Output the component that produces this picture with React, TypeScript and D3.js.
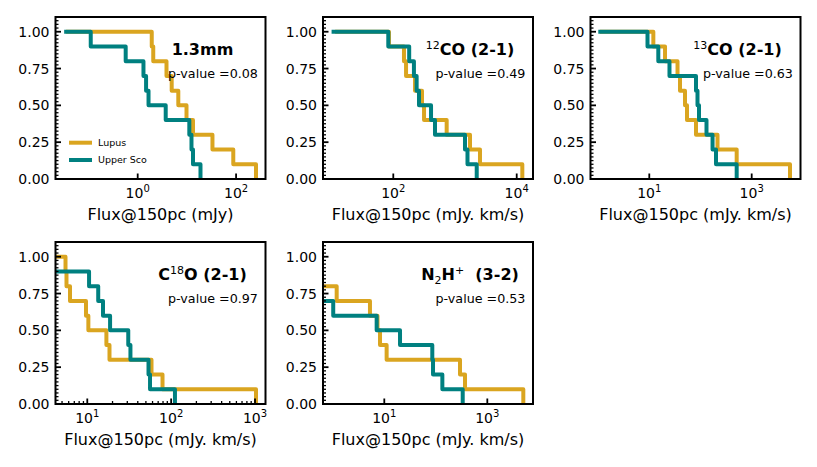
import React from 'react';
import * as d3 from 'd3';

const W = 817;
const H = 467;
const GOLD = '#daa520';
const TEAL = '#008080';
const FONT = 'DejaVu Sans, sans-serif';

// survival fractions: each level holds from its flux to the next one (step after)
const levelsFull = [1.0, 0.9, 0.8, 0.7, 0.6, 0.5, 0.4, 0.3, 0.2, 0.1, 0.0];
const levelsFrom09 = [0.9, 0.8, 0.7, 0.6, 0.5, 0.4, 0.3, 0.2, 0.1, 0.0];
const levelsFrom08 = [0.8, 0.7, 0.6, 0.5, 0.4, 0.3, 0.2, 0.1, 0.0];
const levelsFrom07 = [0.7, 0.6, 0.5, 0.4, 0.3, 0.2, 0.1, 0.0];

// fluxes @150pc
const mmLupus = [0.035, 1.93, 2.07, 3.85, 4.91, 6.69, 9.82, 13.3, 33.1, 87.7, 254];
const mmUsco = [0.032, 0.111, 0.57, 1.31, 1.48, 1.66, 3.71, 11.2, 12.4, 13.3, 18.9];

const co12Lupus = [11.4, 85.1, 149, 161, 225, 292, 315, 733, 1750, 2540, 12330];
const co12Usco = [10.0, 83.0, 181, 216, 239, 261, 409, 474, 1452, 1594, 2249];

const co13Lupus = [1.09, 12.0, 20.3, 35.6, 39.8, 49.8, 54.5, 81.7, 215, 509, 5598];
const co13Usco = [1.01, 9.23, 15.0, 24.8, 81.7, 87.4, 93.5, 131, 172, 201, 509];

const c18oLupus = [3.59, 5.5, 5.65, 6.22, 9.65, 10.3, 16.9, 18.4, 58.3, 78.9, 1028];
const c18oUsco = [3.59, 10.5, 13.5, 15.4, 18.7, 30.8, 32.7, 53.7, 56.0, 111];

const n2hLupus = [0.45, 1.19, 5.27, 7.38, 8.26, 11.1, 295, 369, 5000];
const n2hUsco = [0.45, 1.02, 7.11, 20.2, 85.5, 88.3, 134, 333];

const pValues = ['0.08', '0.49', '0.63', '0.97', '0.53'];
const yTicks = [0, 0.25, 0.5, 0.75, 1.0];

const zip = (xs: number[], ys: number[]) => xs.map((v, i) => [v, ys[i]] as [number, number]);

const panels = [
  {
    title: [{ t: '1.3mm' }],
    label: 'Flux@150pc (mJy)',
    xlim: [-1.671, 2.598], ticks: [0, 2], minor: false,
    lupus: zip(mmLupus, levelsFull), usco: zip(mmUsco, levelsFull),
    left: 55.5, top: 17, legend: true,
  },
  {
    title: [{ t: '12', sup: true }, { t: 'CO (2-1)' }],
    label: 'Flux@150pc (mJy. km/s)',
    xlim: [0.861, 4.264], ticks: [2, 4], minor: false,
    lupus: zip(co12Lupus, levelsFull), usco: zip(co12Usco, levelsFull),
    left: 323, top: 17,
  },
  {
    title: [{ t: '13', sup: true }, { t: 'CO (2-1)' }],
    label: 'Flux@150pc (mJy. km/s)',
    xlim: [-0.148, 3.953], ticks: [1, 3], minor: false,
    lupus: zip(co13Lupus, levelsFull), usco: zip(co13Usco, levelsFull),
    left: 590.5, top: 17,
  },
  {
    title: [{ t: 'C' }, { t: '18', sup: true }, { t: 'O (2-1)' }],
    label: 'Flux@150pc (mJy. km/s)',
    xlim: [0.621, 3.125], ticks: [1, 2, 3], minor: true,
    lupus: zip(c18oLupus, levelsFull), usco: zip(c18oUsco, levelsFrom09),
    left: 55.5, top: 242,
  },
  {
    title: [{ t: 'N' }, { t: '2', sub: true }, { t: 'H' }, { t: '+', sup: true }, { t: '\u00a0 (3-2)' }],
    label: 'Flux@150pc (mJy. km/s)',
    xlim: [-0.19, 3.887], ticks: [1, 3], minor: false,
    lupus: zip(n2hLupus, levelsFrom08), usco: zip(n2hUsco, levelsFrom07),
    left: 323, top: 242,
  },
];

function Title({ parts, x, y }: any) {
  // keep track of the shift so super/subscripts drop back to the baseline
  let shift = 0;
  const spans = parts.map((p: any, i: number) => {
    const target = p.sup ? -6 : p.sub ? 4 : 0;
    const dy = target - shift;
    shift = target;
    return (
      <tspan key={i} dy={dy} fontSize={p.sup || p.sub ? 11 : 16} fontWeight={p.sup || p.sub ? 'normal' : 'bold'}>
        {p.t}
      </tspan>
    );
  });
  return (
    <text x={x} y={y} textAnchor="middle" fontFamily={FONT} fontSize={16} fontWeight="bold">
      {spans}
    </text>
  );
}

function Panel({ p, idx }: any) {
  const w = 210;
  const h = 162;
  const x = d3.scaleLog().domain([10 ** p.xlim[0], 10 ** p.xlim[1]]).range([0, w]);
  const y = d3.scaleLinear().domain([0, 1.1]).range([h, 0]);
  const line = d3.line<[number, number]>()
    .x(d => x(d[0]))
    .y(d => y(d[1]))
    .curve(d3.curveStepAfter);

  const yMinor = d3.range(0, 45).map(i => i * 0.025).filter(v => Math.round(v * 1000) % 250 !== 0);
  const xMinor: number[] = [];
  if (p.minor) {
    for (let d = -1; d <= 4; d++) {
      for (let k = 2; k <= 9; k++) {
        const v = k * 10 ** d;
        if (v > x.domain()[0] && v < x.domain()[1]) xMinor.push(v);
      }
    }
  }
  const clipId = `clip-${idx}`;

  return (
    <g transform={`translate(${p.left},${p.top})`}>
      <defs>
        <clipPath id={clipId}>
          <rect x={0} y={0} width={w} height={h} />
        </clipPath>
      </defs>
      <g clipPath={`url(#${clipId})`}>
        <path d={line(p.lupus) || ''} fill="none" stroke={GOLD} strokeWidth={4} strokeLinejoin="round" />
        <path d={line(p.usco) || ''} fill="none" stroke={TEAL} strokeWidth={4} strokeLinejoin="round" />
      </g>

      {/* ticks point inward */}
      {yMinor.map((v, i) => (
        <line key={`ym${i}`} x1={0} x2={3} y1={y(v)} y2={y(v)} stroke="#000" strokeWidth={1.3} />
      ))}
      {yTicks.map((v, i) => (
        <g key={`y${i}`}>
          <line x1={0} x2={5.5} y1={y(v)} y2={y(v)} stroke="#000" strokeWidth={1.8} />
          <text x={-6} y={y(v)} dy="0.36em" textAnchor="end" fontFamily={FONT} fontSize={14}>
            {v.toFixed(2)}
          </text>
        </g>
      ))}
      {xMinor.map((v, i) => (
        <line key={`xm${i}`} x1={x(v)} x2={x(v)} y1={h} y2={h - 3} stroke="#000" strokeWidth={1.3} />
      ))}
      {p.ticks.map((e: number) => (
        <g key={`x${e}`}>
          <line x1={x(10 ** e)} x2={x(10 ** e)} y1={h} y2={h - 5.5} stroke="#000" strokeWidth={1.8} />
          <text x={x(10 ** e)} y={h + 18.7} textAnchor="middle" fontFamily={FONT} fontSize={14}>
            10<tspan dy={-5.5} fontSize={10}>{e}</tspan>
          </text>
        </g>
      ))}

      <rect x={0} y={0} width={w} height={h} fill="none" stroke="#000" strokeWidth={2} />

      <Title parts={p.title} x={w * 0.7} y={38} />
      <text x={w * 0.75} y={61.3} textAnchor="middle" fontFamily={FONT} fontSize={12.7}>
        p-value ={pValues[idx]}
      </text>

      <text x={w / 2} y={h + 41} textAnchor="middle" fontFamily={FONT} fontSize={16}>
        {p.label}
      </text>

      {p.legend && (
        <g fontFamily={FONT} fontSize={9.5}>
          <line x1={13.5} x2={36.5} y1={125.7} y2={125.7} stroke={GOLD} strokeWidth={4} />
          <text x={42.5} y={125.7} dy="0.35em">Lupus</text>
          <line x1={13.5} x2={36.5} y1={143} y2={143} stroke={TEAL} strokeWidth={4} />
          <text x={42.5} y={143} dy="0.35em">Upper Sco</text>
        </g>
      )}
    </g>
  );
}

export default function App() {
  return (
    <svg width={W} height={H} style={{ position: 'absolute', left: 0, top: 0, background: '#fff' }}>
      <rect width={W} height={H} fill="#fff" />
      {panels.map((p, i) => (
        <Panel key={i} p={p} idx={i} />
      ))}
    </svg>
  );
}
